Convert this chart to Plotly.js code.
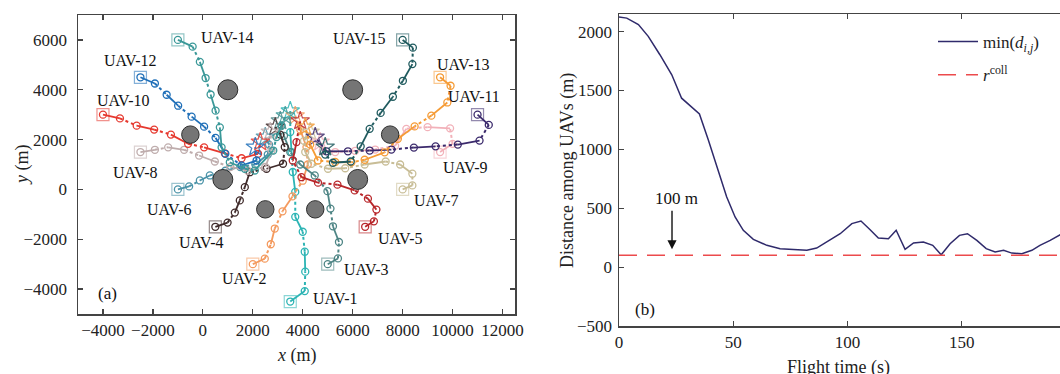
<!DOCTYPE html>
<html><head><meta charset="utf-8">
<script src="https://cdn.plot.ly/plotly-3.0.1.min.js"></script>
<style>html,body{margin:0;padding:0;overflow:hidden;background:#fff}</style>
</head><body><div id="chart" style="width:1090px;height:374px"></div>
<script>
// ---------- data: UAV trajectories (m) ----------
const uav1X = [3500,4080,4100,4080,4000,3700,3700,3600,3550,3500,3500];
const uav1Y = [-4500,-4080,-3300,-2500,-1700,-1100,-100,700,1500,2300,3150];
const uav2X = [2000,2480,2720,2880,3190,3590,4000,4200,4150,3900,3700];
const uav2Y = [-3000,-2780,-2200,-1570,-880,-280,350,1000,1700,2400,2950];
const uav3X = [5000,5410,5450,5210,5110,4990,4480,3900,3500,3250,3100];
const uav3Y = [-3000,-2770,-2110,-1480,-770,-70,560,1000,1500,2150,2750];
const uav4X = [500,990,1280,1480,1680,1880,2550,3210,3280,3100,2900];
const uav4Y = [-1500,-1330,-930,-440,90,690,830,1030,1700,2200,2500];
const uav5X = [6500,6850,6950,6610,6080,5390,4610,3950,3600,3750,3900];
const uav5Y = [-1500,-1280,-810,-370,-40,190,270,490,1160,1900,2750];
const uav6X = [-1000,-550,-120,280,900,1500,2100,2600,2650,2500];
const uav6Y = [0,120,360,560,750,900,1000,1400,1800,2100];
const uav7X = [8000,8390,8390,7900,7320,6480,5700,5010,4350,4100,4050,4300];
const uav7Y = [0,160,630,1000,1120,1000,850,830,1030,1500,1950,2300];
const uav8X = [-2500,-1920,-1390,-750,-150,480,1100,1800,2500,2750,2700];
const uav8Y = [1500,1590,1690,1590,1360,1120,900,750,900,1560,2300];
const uav9X = [9500,10000,9900,9000,8150,7700,6900,6100,5300,4800,4700];
const uav9Y = [1500,1830,2450,2500,2430,1750,1600,1550,1500,1550,1900];
const uav10X = [-4000,-3320,-2650,-1950,-1280,-590,50,880,1550,2210,2300];
const uav10Y = [3000,2850,2560,2400,2200,1830,1690,1450,1250,1430,1900];
const uav11X = [11000,11450,11080,10210,9320,8450,7550,6680,5810,4950,4500];
const uav11Y = [3000,2590,1960,1800,1730,1680,1600,1560,1530,1530,2100];
const uav12X = [-2500,-1920,-1450,-990,-450,50,510,900,1550,2150,2100];
const uav12Y = [4500,4250,3800,3360,2920,2520,2070,1430,960,1160,1700];
const uav13X = [9500,9920,9790,9150,8480,7810,7280,6480,5950,5300,4610,4300,4100];
const uav13Y = [4500,4160,3490,2960,2530,2030,1490,1190,1090,1100,1160,1800,2500];
const uav14X = [-1000,-410,-120,110,310,510,680,750,1080,1680,2080,2820,2950,3150,3300];
const uav14Y = [6000,5730,5120,4470,3810,3160,2490,1690,1090,830,760,1560,2100,2560,2950];
const uav15X = [8000,8410,8390,8010,7610,7120,6680,6320,5920,5210,4900,4900];
const uav15Y = [6000,5690,5030,4360,3720,3070,2430,1730,1120,1070,1400,1700];

const uavNames = ['UAV-1','UAV-2','UAV-3','UAV-4','UAV-5','UAV-6','UAV-7','UAV-8',
                  'UAV-9','UAV-10','UAV-11','UAV-12','UAV-13','UAV-14','UAV-15'];
const labelX = [5280,1650,6520,-80,7900,-1360,9350,-2700,10480,-3210,10850,-2920,10410,950,6240];
const labelY = [-4370,-3570,-3210,-2150,-1970,-810,-440,690,890,3560,3720,5190,5030,6090,6070];

// obstacles (m)
const obstacleX = [1000,6000,-500,7500,800,6200,2500,4500];
const obstacleY = [4000,4000,2200,2200,400,400,-800,-800];
const obstacleR = [400,400,350,350,400,400,350,350];

// axis ticks
const xTicksA = [-4000,-2000,0,2000,4000,6000,8000,10000,12000];
const yTicksA = [-4000,-2000,0,2000,4000,6000];
const xTicksB = [0,50,100,150,200];
const yTicksB = [-500,0,500,1000,1500,2000];

// ---------- data: minimum distance ----------
const flightTime = [0,3.4,8.5,12.8,17.9,23.1,27.4,35.2,39.1,42.8,47.1,50.8,54.4,58.8,64.7,70.5,76.3,82.2,86.5,90.9,96.8,101.9,105.9,109.9,113.5,117.9,121.3,125.2,128.9,133.2,137.3,141,144.9,149,152.5,156.6,160.7,164.6,168.3,171.9,176.3,180.7,184.2,188.7,193.1,197];
const minDist   = [2125,2115,2060,1960,1804,1634,1435,1301,1080,852,597,426,313,236,185,157,149,143,162,213,284,370,392,318,247,241,313,151,205,213,185,105,199,270,284,227,157,128,143,119,114,143,185,227,276,300];
const collRadius = 100;

const colors = ['#2cb4b4','#f49a5e','#4e8585','#3f2a2a','#b8262a','#4a93a8','#c8bd96','#bfadad',
                '#f2b1b9','#e6392f','#3b2a6c','#1f6fb8','#f59b35','#3a9898','#1f5a5e'];

const pathsX = [uav1X,uav2X,uav3X,uav4X,uav5X,uav6X,uav7X,uav8X,uav9X,uav10X,uav11X,uav12X,uav13X,uav14X,uav15X];
const pathsY = [uav1Y,uav2Y,uav3Y,uav4Y,uav5Y,uav6Y,uav7Y,uav8Y,uav9Y,uav10Y,uav11Y,uav12Y,uav13Y,uav14Y,uav15Y];

const W = 1090, H = 374;
const px = v => v / W, py = v => 1 - v / H;
const font = 'Liberation Serif, Times New Roman, serif';

const traces = [];
pathsX.forEach((xs, k) => {
  const ys = pathsY[k], c = colors[k];
  const sx = [], sy = [], dx = [], dy = [];
  for (let i = 0; i < xs.length - 1; i++) {
    const tx = i % 2 === 0 ? sx : dx, ty = i % 2 === 0 ? sy : dy;
    tx.push(xs[i], xs[i+1], null); ty.push(ys[i], ys[i+1], null);
  }
  traces.push({x: sx, y: sy, mode: 'lines', line: {color: c, width: 1.8}, showlegend: false, hoverinfo: 'skip'});
  traces.push({x: dx, y: dy, mode: 'lines', line: {color: c, width: 2, dash: 'dot'}, showlegend: false, hoverinfo: 'skip'});
  traces.push({x: xs.slice(0, -1), y: ys.slice(0, -1), mode: 'markers', showlegend: false, hoverinfo: 'skip',
    marker: {symbol: 'circle-open', size: 7, color: c, line: {width: 1.3, color: c}}});
  traces.push({x: [xs[0]], y: [ys[0]], mode: 'markers', showlegend: false, hoverinfo: 'skip',
    marker: {symbol: 'square-open', size: 12, color: c, opacity: 0.55, line: {width: 1.2, color: c}}});
  traces.push({x: [xs[xs.length-1]], y: [ys[ys.length-1]], mode: 'markers', showlegend: false, hoverinfo: 'skip',
    marker: {symbol: 'star-open', size: 14, color: c, opacity: 0.85, line: {width: 1.2, color: c}}});
});

traces.push({x: flightTime, y: minDist, xaxis: 'x2', yaxis: 'y2', mode: 'lines', legendgroup: 'a',
  name: 'min(<i>d</i><sub><i>i,j</i></sub>)', line: {color: '#2f2a6b', width: 1.5}});
traces.push({x: [0, 200], y: [collRadius, collRadius], xaxis: 'x2', yaxis: 'y2', mode: 'lines', legendgroup: 'b',
  name: '<i>r</i><sup>coll</sup>', line: {color: '#ec4a4c', width: 1.5, dash: '18px,10px'}});

const shapes = obstacleX.map((cx, i) => ({type: 'circle', xref: 'x', yref: 'y', layer: 'above',
  x0: cx - obstacleR[i], x1: cx + obstacleR[i], y0: obstacleY[i] - obstacleR[i], y1: obstacleY[i] + obstacleR[i],
  fillcolor: '#757575', line: {color: '#2b2b2b', width: 1}}));

const ann = (o) => Object.assign({showarrow: false, xanchor: 'center', yanchor: 'middle'}, o);
const annotations = uavNames.map((n, i) => ann({x: labelX[i], y: labelY[i], xref: 'x', yref: 'y', text: n,
  font: {size: 16, color: '#111', family: font}}));
annotations.push(ann({x: -3800, y: -4160, xref: 'x', yref: 'y', text: '(a)', font: {size: 17, color: '#111', family: font}}));
annotations.push(ann({x: 11.4, y: -358, xref: 'x2', yref: 'y2', text: '(b)', font: {size: 17, color: '#111', family: font}}));
annotations.push(ann({x: 25.3, y: 583, xref: 'x2', yref: 'y2', text: '100 m', font: {size: 17, color: '#111', family: font}}));
annotations.push({x: 23.2, y: 151, ax: 23.2, ay: 492, xref: 'x2', yref: 'y2', axref: 'x2', ayref: 'y2', text: '',
  showarrow: true, arrowhead: 2, arrowsize: 1.3, arrowwidth: 1.4, arrowcolor: '#111'});
// axis titles
annotations.push(ann({x: px(297), y: py(355), xref: 'paper', yref: 'paper', text: '<i>x</i> (m)', font: {size: 18, color: '#222', family: font}}));
annotations.push(ann({x: px(22), y: py(165), xref: 'paper', yref: 'paper', text: '<i>y</i> (m)', textangle: -90, font: {size: 18, color: '#222', family: font}}));
annotations.push(ann({x: px(838), y: py(367), xref: 'paper', yref: 'paper', text: 'Flight time (s)', font: {size: 18, color: '#222', family: font}}));
annotations.push(ann({x: px(567), y: py(170), xref: 'paper', yref: 'paper', text: 'Distance among UAVs (m)', textangle: -90, font: {size: 18, color: '#222', family: font}}));

const axBase = {showgrid: false, zeroline: false, showline: true, linecolor: '#444', linewidth: 1.5, mirror: 'ticks',
  ticks: 'inside', ticklen: 5, tickwidth: 1.2, tickcolor: '#444', automargin: false, tickmode: 'array',
  tickfont: {size: 17, color: '#222', family: font}};

const layout = {
  width: W, height: H, margin: {l: 0, r: 0, t: 0, b: 0}, paper_bgcolor: '#fff', plot_bgcolor: '#fff',
  font: {family: font, color: '#222'},
  xaxis: Object.assign({}, axBase, {domain: [px(78), px(515)], range: [-5000, 12500], tickvals: xTicksA, ticktext: xTicksA.map(v => v < 0 ? '\u2212' + (-v) : String(v)), anchor: 'y'}),
  yaxis: Object.assign({}, axBase, {domain: [py(314), py(15)], range: [-5000, 7000], tickvals: yTicksA, ticktext: yTicksA.map(v => v < 0 ? '\u2212' + (-v) : String(v)), anchor: 'x', ticklabelstandoff: 6}),
  xaxis2: Object.assign({}, axBase, {domain: [px(619), px(1076)], range: [0, 200], tickvals: xTicksB, anchor: 'y2'}),
  yaxis2: Object.assign({}, axBase, {domain: [py(326), py(14)], range: [-500, 2150], tickvals: yTicksB, ticktext: yTicksB.map(v => v < 0 ? '\u2212' + (-v) : String(v)), anchor: 'x2', ticklabelstandoff: 2}),
  showlegend: true,
  legend: {x: px(933), y: py(24), xanchor: 'left', yanchor: 'top', bgcolor: 'rgba(0,0,0,0)', traceorder: 'grouped', tracegroupgap: 8,
    font: {size: 17, family: font, color: '#222'}, itemwidth: 40},
  shapes: shapes, annotations: annotations
};

Plotly.newPlot('chart', traces, layout, {staticPlot: true, displayModeBar: false});
</script></body></html>
